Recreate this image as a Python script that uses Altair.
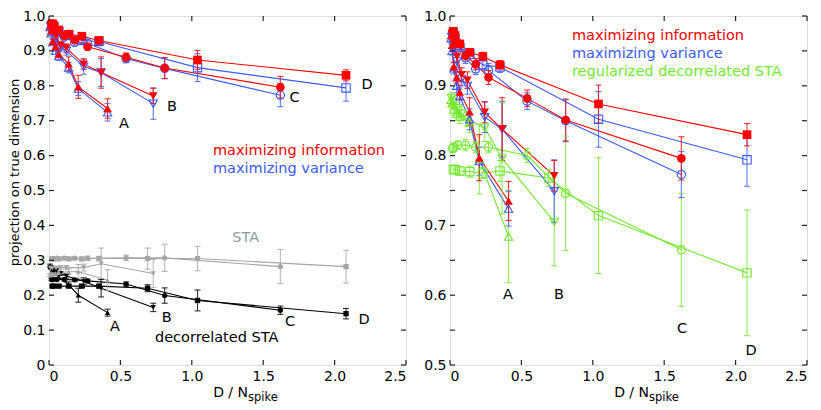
import altair as alt
import pandas as pd

# ---------------- data ----------------
# D / N_spike positions for the four model cells A-D
X_A = [0.007, 0.014, 0.027, 0.046, 0.068, 0.137, 0.205, 0.41]
X_B = [0.012, 0.024, 0.049, 0.081, 0.122, 0.243, 0.365, 0.73]
X_C = [0.018, 0.027, 0.054, 0.108, 0.18, 0.27, 0.54, 0.81, 1.62]
X_D = [0.023, 0.035, 0.069, 0.139, 0.23, 0.35, 0.69, 1.04, 2.08]

# maximizing information (red, filled)
INFO_A = [0.972, 0.958, 0.928, 0.912, 0.891, 0.863, 0.797, 0.735]
INFO_A_ERR = [0.004, 0.005, 0.006, 0.008, 0.010, 0.020, 0.033, 0.028]
INFO_B = [0.975, 0.962, 0.942, 0.916, 0.908, 0.862, 0.838, 0.771]
INFO_B_ERR = [0.004, 0.005, 0.008, 0.010, 0.012, 0.015, 0.045, 0.022]
INFO_C = [0.978, 0.972, 0.961, 0.943, 0.931, 0.912, 0.882, 0.851, 0.796]
INFO_C_ERR = [0.004, 0.004, 0.006, 0.006, 0.008, 0.010, 0.012, 0.030, 0.031]
INFO_D = [0.978, 0.972, 0.960, 0.948, 0.942, 0.930, None, 0.874, 0.830]
INFO_D_ERR = [0.004, 0.004, 0.005, 0.005, 0.006, 0.006, None, 0.027, 0.016]

# maximizing variance (blue, open)
VAR_A = [0.968, 0.950, 0.925, 0.900, 0.885, 0.852, 0.792, 0.724]
VAR_A_ERR = [0.005, 0.006, 0.008, 0.010, 0.012, 0.015, 0.020, 0.025]
VAR_B = [0.970, 0.955, 0.935, 0.910, 0.900, 0.855, 0.838, 0.749]
VAR_B_ERR = [0.005, 0.006, 0.008, 0.010, 0.012, 0.022, 0.040, 0.045]
VAR_C = [0.976, 0.970, 0.958, 0.940, 0.924, 0.922, 0.878, 0.850, 0.773]
VAR_C_ERR = [0.004, 0.005, 0.006, 0.008, 0.008, 0.010, 0.012, 0.030, 0.033]
VAR_D = [0.975, 0.968, 0.955, 0.945, 0.930, 0.927, None, 0.852, 0.794]
VAR_D_ERR = [0.004, 0.005, 0.006, 0.006, 0.006, 0.008, None, 0.040, 0.038]

# regularized decorrelated STA (green, open) - right panel only
RDSTA_A = [0.880, 0.875, 0.866, 0.860, 0.856, 0.848, 0.795, 0.684]
RDSTA_A_ERR = [0.008, 0.008, 0.008, 0.010, 0.010, 0.015, 0.050, 0.066]
RDSTA_B = [0.882, 0.876, 0.868, 0.860, 0.852, 0.840, 0.796, 0.705]
RDSTA_B_ERR = [0.008, 0.008, 0.008, 0.010, 0.010, 0.020, 0.080, 0.063]
RDSTA_C = [0.810, 0.812, 0.815, 0.815, 0.812, 0.812, 0.800, 0.746, 0.665]
RDSTA_C_ERR = [0.006, 0.006, 0.006, 0.008, 0.008, 0.008, 0.010, 0.082, 0.081]
RDSTA_D = [0.780, 0.780, 0.778, 0.777, 0.775, 0.778, 0.768, 0.714, 0.632]
RDSTA_D_ERR = [0.006, 0.006, 0.006, 0.008, 0.008, 0.015, 0.012, 0.083, 0.090]

# STA (grey, filled) - left panel only
STA_A = [0.258, 0.258, 0.260, 0.262, 0.265, 0.267, 0.268, 0.243]
STA_A_ERR = [0.004, 0.004, 0.004, 0.004, 0.005, 0.008, 0.020, 0.030]
STA_B = [0.278, 0.278, 0.278, 0.279, 0.279, 0.279, 0.290, 0.262]
STA_B_ERR = [0.004, 0.004, 0.004, 0.005, 0.005, 0.010, 0.045, 0.040]
STA_C = [0.305, 0.305, 0.306, 0.306, 0.306, 0.306, 0.307, 0.307, 0.282]
STA_C_ERR = [0.003, 0.003, 0.004, 0.004, 0.005, 0.006, 0.008, 0.039, 0.049]
STA_D = [0.304, 0.304, 0.304, 0.304, 0.304, 0.305, 0.305, 0.305, 0.282]
STA_D_ERR = [0.003, 0.003, 0.004, 0.004, 0.005, 0.006, 0.030, 0.035, 0.047]

# decorrelated STA (black, filled) - left panel only
DSTA_A = [0.285, 0.280, 0.272, 0.262, 0.252, 0.230, 0.200, 0.150]
DSTA_A_ERR = [0.004, 0.004, 0.005, 0.005, 0.006, 0.008, 0.020, 0.010]
DSTA_B = [0.280, 0.276, 0.270, 0.262, 0.255, 0.240, 0.220, 0.165]
DSTA_B_ERR = [0.004, 0.004, 0.005, 0.005, 0.006, 0.010, 0.025, 0.012]
DSTA_C = [0.245, 0.245, 0.245, 0.245, 0.244, 0.241, 0.232, 0.199, 0.157]
DSTA_C_ERR = [0.003, 0.003, 0.004, 0.004, 0.004, 0.005, 0.006, 0.022, 0.012]
DSTA_D = [0.226, 0.226, 0.226, 0.226, 0.226, 0.226, 0.220, 0.185, 0.147]
DSTA_D_ERR = [0.003, 0.003, 0.004, 0.004, 0.004, 0.005, 0.010, 0.030, 0.015]

# axis ticks
X_TICKS = [0, 0.5, 1.0, 1.5, 2.0, 2.5]
LEFT_Y_TICKS = [0, 0.1, 0.2, 0.3, 0.4, 0.5, 0.6, 0.7, 0.8, 0.9, 1.0]
RIGHT_Y_TICKS = [0.5, 0.55, 0.6, 0.65, 0.7, 0.75, 0.8, 0.85, 0.9, 0.95, 1.0]
RIGHT_Y_LABELS = [0.5, 0.6, 0.7, 0.8, 0.9, 1.0]

# text annotations: (text, x, y, colour key)
LEFT_NOTES = [
    ("A", 0.525, 0.691, "k"), ("B", 0.861, 0.738, "k"),
    ("C", 1.72, 0.766, "k"), ("D", 2.227, 0.803, "k"),
    ("A", 0.462, 0.108, "k"), ("B", 0.824, 0.136, "k"),
    ("C", 1.688, 0.122, "k"), ("D", 2.206, 0.128, "k"),
    ("STA", 1.377, 0.365, "g"),
]
LEFT_NOTES_LEFT = [
    ("maximizing information", 1.148, 0.612, "r"),
    ("maximizing variance", 1.148, 0.562, "b"),
    ("decorrelated STA", 0.742, 0.077, "k"),
]
RIGHT_NOTES = [
    ("A", 0.406, 0.600, "k"), ("B", 0.763, 0.600, "k"),
    ("C", 1.625, 0.551, "k"), ("D", 2.108, 0.520, "k"),
]
RIGHT_NOTES_LEFT = [
    ("maximizing information", 0.854, 0.9716, "r"),
    ("maximizing variance", 0.854, 0.9458, "b"),
    ("regularized decorrelated STA", 0.854, 0.920, "gr"),
]

# ---------------- styling ----------------
METHODS = ["dsta", "sta", "rdsta", "var", "info"]
COLORS = ["#000000", "#a6a6a6", "#74e830", "#3b5bff", "#ff0000"]
NOTE_COLORS = {"k": "#000000", "g": "#8c9a9a", "r": "#ff0000", "b": "#3b5bff", "gr": "#74e830"}
FONT = "DejaVu Sans"
W = 357
H = 349

XS = {"A": X_A, "B": X_B, "C": X_C, "D": X_D}
SHAPES = {"A": "triangle-up", "B": "triangle-down", "C": "circle", "D": "square"}

SERIES = {
    "info": ({"A": INFO_A, "B": INFO_B, "C": INFO_C, "D": INFO_D},
             {"A": INFO_A_ERR, "B": INFO_B_ERR, "C": INFO_C_ERR, "D": INFO_D_ERR}),
    "var": ({"A": VAR_A, "B": VAR_B, "C": VAR_C, "D": VAR_D},
            {"A": VAR_A_ERR, "B": VAR_B_ERR, "C": VAR_C_ERR, "D": VAR_D_ERR}),
    "rdsta": ({"A": RDSTA_A, "B": RDSTA_B, "C": RDSTA_C, "D": RDSTA_D},
              {"A": RDSTA_A_ERR, "B": RDSTA_B_ERR, "C": RDSTA_C_ERR, "D": RDSTA_D_ERR}),
    "sta": ({"A": STA_A, "B": STA_B, "C": STA_C, "D": STA_D},
            {"A": STA_A_ERR, "B": STA_B_ERR, "C": STA_C_ERR, "D": STA_D_ERR}),
    "dsta": ({"A": DSTA_A, "B": DSTA_B, "C": DSTA_C, "D": DSTA_D},
             {"A": DSTA_A_ERR, "B": DSTA_B_ERR, "C": DSTA_C_ERR, "D": DSTA_D_ERR}),
}


def frame(methods):
    rows = []
    for m in methods:
        ys, es = SERIES[m]
        for letter in "ABCD":
            for xv, yv, ev in zip(XS[letter], ys[letter], es[letter]):
                if yv is None:
                    continue
                rows.append({"method": m, "letter": letter, "series": m + letter,
                             "x": xv, "y": yv, "lo": yv - ev, "hi": yv + ev})
    return pd.DataFrame(rows)


color = alt.Color("method:N", scale=alt.Scale(domain=METHODS, range=COLORS), legend=None)
shape = alt.Shape("letter:N", scale=alt.Scale(domain=list("ABCD"),
                                              range=[SHAPES[k] for k in "ABCD"]), legend=None)
LABEL_EXPR = "datum.value == 0 ? '0' : format(datum.value, '.1f')"


def panel(methods, ydomain, yticks, ylabels, notes, notes_left, left=True):
    df = frame(methods)
    xs = alt.Scale(domain=[0, 2.5], nice=False, zero=False)
    ys = alt.Scale(domain=ydomain, nice=False, zero=False)
    xax = alt.Axis(values=X_TICKS, labelExpr=LABEL_EXPR, ticks=False, domain=False,
                   grid=False, title=None, labelFontSize=14, labelFont=FONT,
                   labelColor="#000", labelPadding=4, labelOverlap=False)
    yax_args = dict(values=ylabels, labelExpr=LABEL_EXPR, ticks=False, domain=False,
                    grid=False, labelFontSize=14, labelFont=FONT, labelColor="#000",
                    labelPadding=4, labelOverlap=False)
    if left:
        yax = alt.Axis(title="projection on true dimension", titleFont=FONT,
                       titleFontSize=13, titleFontWeight="normal", titleColor="#000",
                       titlePadding=1, titleY=156, **yax_args)
    else:
        yax = alt.Axis(title=None, **yax_args)
    Xa = lambda f: alt.X(f, scale=xs, axis=xax)
    Ya = lambda f: alt.Y(f, scale=ys, axis=yax)
    base = alt.Chart(df)

    layers = []
    layers.append(base.mark_line(strokeWidth=1.1).encode(
        x=Xa("x:Q"), y=Ya("y:Q"), color=color, detail="series:N", order=alt.Order("x:Q")))
    layers.append(base.mark_rule(strokeWidth=1.1, opacity=0.8).encode(
        x=Xa("x:Q"), y=Ya("lo:Q"), y2="hi:Q", color=color))
    for fld in ["lo", "hi"]:
        layers.append(base.mark_tick(orient="horizontal", size=6, thickness=1.1,
                                     opacity=0.8).encode(
            x=Xa("x:Q"), y=Ya(fld + ":Q"), color=color))
    for m in methods:
        sub = alt.Chart(df[df["method"] == m])
        if m in ("var", "rdsta"):
            mk = sub.mark_point(filled=False, size=70, strokeWidth=1.1, opacity=1)
        elif m == "info":
            mk = sub.mark_point(filled=True, size=75, opacity=1)
        else:
            mk = sub.mark_point(filled=True, size=28, opacity=1)
        layers.append(mk.encode(x=Xa("x:Q"), y=Ya("y:Q"), shape=shape, color=color))

    # inward ticks of the frame
    tx = alt.Chart(pd.DataFrame({"t": X_TICKS}))
    ty = alt.Chart(pd.DataFrame({"t": yticks}))
    tick_style = dict(color="#222", strokeWidth=1.2)
    layers.append(tx.mark_rule(**tick_style).encode(
        x=Xa("t:Q"), y=alt.value(H), y2=alt.value(H - 5)))
    layers.append(tx.mark_rule(**tick_style).encode(
        x=Xa("t:Q"), y=alt.value(0), y2=alt.value(5)))
    layers.append(ty.mark_rule(**tick_style).encode(
        y=Ya("t:Q"), x=alt.value(0), x2=alt.value(5)))
    layers.append(ty.mark_rule(**tick_style).encode(
        y=Ya("t:Q"), x=alt.value(W - 5), x2=alt.value(W)))

    # annotations
    nd = pd.DataFrame([{"t": t, "x": x, "y": y, "c": NOTE_COLORS[c]} for t, x, y, c in notes])
    layers.append(alt.Chart(nd).mark_text(font=FONT, fontSize=14.5, align="center",
                                          baseline="middle").encode(
        x=Xa("x:Q"), y=Ya("y:Q"), text="t:N", color=alt.Color("c:N", scale=None)))
    nl = pd.DataFrame([{"t": t, "x": x, "y": y, "c": NOTE_COLORS[c]} for t, x, y, c in notes_left])
    layers.append(alt.Chart(nl).mark_text(font=FONT, fontSize=14.5, align="left",
                                          baseline="middle").encode(
        x=Xa("x:Q"), y=Ya("y:Q"), text="t:N", color=alt.Color("c:N", scale=None)))

    # x-axis title with subscript
    layers.append(alt.Chart(pd.DataFrame({"t": ["D / N"]})).mark_text(
        font=FONT, fontSize=14, align="right", baseline="middle", color="#000").encode(
        x=alt.value(199), y=alt.value(H + 28), text="t:N"))
    layers.append(alt.Chart(pd.DataFrame({"t": ["spike"]})).mark_text(
        font=FONT, fontSize=11.5, align="left", baseline="middle", color="#000").encode(
        x=alt.value(199), y=alt.value(H + 33), text="t:N"))

    return alt.layer(*layers).properties(width=W, height=H)


left = panel(["dsta", "sta", "var", "info"], [0, 1.0], LEFT_Y_TICKS, LEFT_Y_TICKS,
             LEFT_NOTES, LEFT_NOTES_LEFT, left=True)
right = panel(["rdsta", "var", "info"], [0.5, 1.0], RIGHT_Y_TICKS, RIGHT_Y_LABELS,
              RIGHT_NOTES, RIGHT_NOTES_LEFT, left=False)

chart = alt.hconcat(left, right, spacing=15).properties(
    padding={"left": 0, "top": 0, "right": 0, "bottom": 0}
).configure_axis(labelOverlap=False).configure_view(
    stroke="#222", strokeWidth=1.5).configure(background="white")

chart.save("out.html", embed_options={"renderer": "svg", "actions": False})
